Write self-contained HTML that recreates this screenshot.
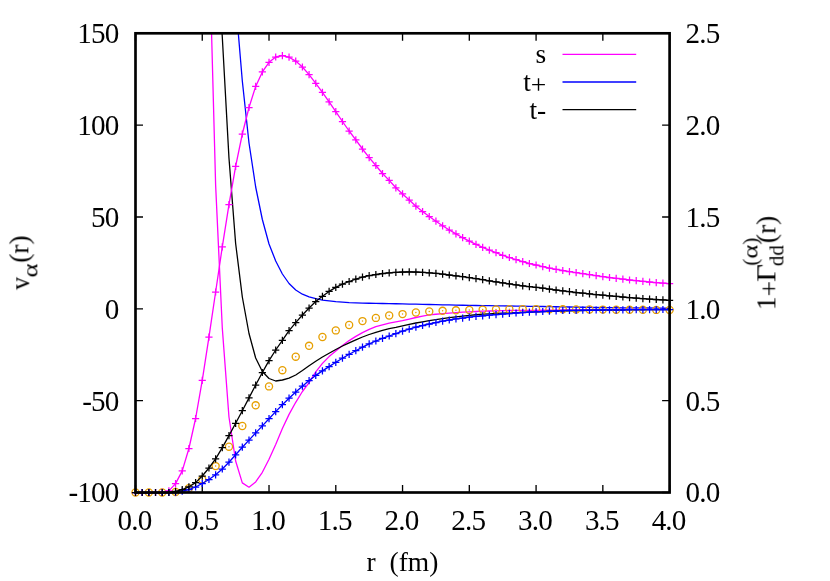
<!DOCTYPE html>
<html><head><meta charset="utf-8"><title>plot</title>
<style>html,body{margin:0;padding:0;background:#fff}body{width:830px;height:581px;overflow:hidden;font-family:"Liberation Serif",serif}</style>
</head><body>
<svg width="830" height="581" viewBox="0 0 830 581" style="display:block">
<rect width="830" height="581" fill="#fff"/>
<defs><clipPath id="c"><rect x="135.5" y="33.3" width="534.1" height="459.2"/></clipPath></defs>
<path d="M135.50,492.5V485.0M135.50,33.3V40.8M202.26,492.5V485.0M202.26,33.3V40.8M269.02,492.5V485.0M269.02,33.3V40.8M335.79,492.5V485.0M335.79,33.3V40.8M402.55,492.5V485.0M402.55,33.3V40.8M469.31,492.5V485.0M469.31,33.3V40.8M536.08,492.5V485.0M536.08,33.3V40.8M602.84,492.5V485.0M602.84,33.3V40.8M669.60,492.5V485.0M669.60,33.3V40.8M135.5,33.30H143.0M669.6,33.30H662.1M135.5,125.14H143.0M669.6,125.14H662.1M135.5,216.98H143.0M669.6,216.98H662.1M135.5,308.82H143.0M669.6,308.82H662.1M135.5,400.66H143.0M669.6,400.66H662.1M135.5,492.50H143.0M669.6,492.50H662.1" stroke="#000" stroke-width="1.33" fill="none"/>
<g clip-path="url(#c)">
<polyline points="208.94,-65.00 215.62,185.00 222.29,328.00 228.97,417.00 235.64,461.00 242.32,482.90 249.00,487.20 255.67,481.90 262.35,472.30 269.02,459.20 275.70,444.50 282.38,428.50 289.05,414.40 295.73,402.30 302.41,391.50 309.08,382.60 315.76,371.80 322.44,363.40 329.11,356.60 335.79,350.90 342.46,345.50 349.14,340.60 355.82,336.40 362.49,332.60 369.17,329.40 375.85,326.70 382.52,324.90 389.20,323.20 395.87,321.80 402.55,320.70 409.23,319.10 415.90,317.50 422.58,316.20 429.26,314.90 435.93,314.25 442.61,313.60 449.28,313.10 455.96,312.60 462.64,312.20 469.31,311.80 475.99,311.50 482.67,311.20 489.34,311.00 496.02,310.80 502.69,310.65 509.37,310.50 516.05,310.45 522.72,310.40 529.40,310.35 536.08,310.30 542.75,310.23 549.43,310.16 556.10,310.09 562.78,310.02 569.46,309.95 576.13,309.88 582.81,309.81 589.49,309.74 596.16,309.67 602.84,309.60 609.51,309.56 616.19,309.52 622.87,309.48 629.54,309.44 636.22,309.40 642.89,309.36 649.57,309.32 656.25,309.28 662.92,309.24 669.60,309.20" fill="none" stroke="#ff00ff" stroke-width="1.3" stroke-linejoin="round"/>
<polyline points="228.97,-80.00 235.64,1.50 242.32,81.00 249.00,143.00 255.67,187.00 262.35,219.50 269.02,244.00 275.70,261.00 282.38,274.00 289.05,283.50 295.73,290.00 302.41,294.20 309.08,296.90 315.76,298.70 322.44,300.10 329.11,300.90 335.79,301.70 342.46,302.15 349.14,302.60 355.82,302.85 362.49,303.10 369.17,303.25 375.85,303.40 382.52,303.52 389.20,303.65 395.87,303.77 402.55,303.90 409.23,304.05 415.90,304.20 422.58,304.35 429.26,304.50 435.93,304.65 442.61,304.80 449.28,304.95 455.96,305.10 462.64,305.25 469.31,305.40 475.99,305.50 482.67,305.60 489.34,305.70 496.02,305.80 502.69,305.90 509.37,306.00 516.05,306.10 522.72,306.20 529.40,306.30 536.08,306.40 542.75,306.52 549.43,306.64 556.10,306.76 562.78,306.88 569.46,307.00 576.13,307.12 582.81,307.24 589.49,307.36 596.16,307.48 602.84,307.60 609.51,307.66 616.19,307.72 622.87,307.78 629.54,307.84 636.22,307.90 642.89,307.96 649.57,308.02 656.25,308.08 662.92,308.14 669.60,308.20" fill="none" stroke="#0000ff" stroke-width="1.3" stroke-linejoin="round"/>
<polyline points="215.62,-86.00 222.29,37.00 228.97,158.00 235.64,243.50 242.32,297.00 249.00,333.50 255.67,358.00 262.35,371.50 269.02,378.50 275.70,381.00 282.38,380.00 289.05,378.20 295.73,375.00 302.41,370.50 309.08,365.70 315.76,361.20 322.44,357.00 329.11,353.20 335.79,349.50 342.46,346.00 349.14,342.80 355.82,339.80 362.49,337.00 369.17,334.50 375.85,332.30 382.52,330.30 389.20,328.60 395.87,327.30 402.55,325.80 409.23,324.30 415.90,323.00 422.58,321.80 429.26,320.60 435.93,319.60 442.61,318.60 449.28,317.70 455.96,316.80 462.64,316.05 469.31,315.30 475.99,314.75 482.67,314.20 489.34,313.80 496.02,313.40 502.69,313.10 509.37,312.80 516.05,312.55 522.72,312.30 529.40,312.10 536.08,311.90 542.75,311.68 549.43,311.45 556.10,311.23 562.78,311.00 569.46,310.87 576.13,310.73 582.81,310.60 589.49,310.47 596.16,310.33 602.84,310.20 609.51,310.13 616.19,310.06 622.87,309.99 629.54,309.92 636.22,309.85 642.89,309.78 649.57,309.71 656.25,309.64 662.92,309.57 669.60,309.50" fill="none" stroke="#000000" stroke-width="1.3" stroke-linejoin="round"/>
</g>
<path d="M562.5,54.3H636.2" stroke="#ff00ff" stroke-width="1.33"/>
<path d="M562.5,82.0H636.2" stroke="#0000ff" stroke-width="1.33"/>
<path d="M562.5,109.6H636.2" stroke="#000000" stroke-width="1.33"/>
<circle cx="135.50" cy="492.50" r="3.55" fill="none" stroke="#e69f00" stroke-width="1.33"/>
<circle cx="135.50" cy="492.50" r="0.75" fill="#e69f00"/>
<circle cx="148.85" cy="492.50" r="3.55" fill="none" stroke="#e69f00" stroke-width="1.33"/>
<circle cx="148.85" cy="492.50" r="0.75" fill="#e69f00"/>
<circle cx="162.21" cy="492.50" r="3.55" fill="none" stroke="#e69f00" stroke-width="1.33"/>
<circle cx="162.21" cy="492.50" r="0.75" fill="#e69f00"/>
<circle cx="175.56" cy="492.00" r="3.55" fill="none" stroke="#e69f00" stroke-width="1.33"/>
<circle cx="175.56" cy="492.00" r="0.75" fill="#e69f00"/>
<circle cx="188.91" cy="488.20" r="3.55" fill="none" stroke="#e69f00" stroke-width="1.33"/>
<circle cx="188.91" cy="488.20" r="0.75" fill="#e69f00"/>
<circle cx="202.26" cy="479.40" r="3.55" fill="none" stroke="#e69f00" stroke-width="1.33"/>
<circle cx="202.26" cy="479.40" r="0.75" fill="#e69f00"/>
<circle cx="215.62" cy="466.10" r="3.55" fill="none" stroke="#e69f00" stroke-width="1.33"/>
<circle cx="215.62" cy="466.10" r="0.75" fill="#e69f00"/>
<circle cx="228.97" cy="446.70" r="3.55" fill="none" stroke="#e69f00" stroke-width="1.33"/>
<circle cx="228.97" cy="446.70" r="0.75" fill="#e69f00"/>
<circle cx="242.32" cy="426.00" r="3.55" fill="none" stroke="#e69f00" stroke-width="1.33"/>
<circle cx="242.32" cy="426.00" r="0.75" fill="#e69f00"/>
<circle cx="255.67" cy="405.30" r="3.55" fill="none" stroke="#e69f00" stroke-width="1.33"/>
<circle cx="255.67" cy="405.30" r="0.75" fill="#e69f00"/>
<circle cx="269.02" cy="386.40" r="3.55" fill="none" stroke="#e69f00" stroke-width="1.33"/>
<circle cx="269.02" cy="386.40" r="0.75" fill="#e69f00"/>
<circle cx="282.38" cy="370.20" r="3.55" fill="none" stroke="#e69f00" stroke-width="1.33"/>
<circle cx="282.38" cy="370.20" r="0.75" fill="#e69f00"/>
<circle cx="295.73" cy="356.70" r="3.55" fill="none" stroke="#e69f00" stroke-width="1.33"/>
<circle cx="295.73" cy="356.70" r="0.75" fill="#e69f00"/>
<circle cx="309.08" cy="345.80" r="3.55" fill="none" stroke="#e69f00" stroke-width="1.33"/>
<circle cx="309.08" cy="345.80" r="0.75" fill="#e69f00"/>
<circle cx="322.44" cy="337.00" r="3.55" fill="none" stroke="#e69f00" stroke-width="1.33"/>
<circle cx="322.44" cy="337.00" r="0.75" fill="#e69f00"/>
<circle cx="335.79" cy="330.40" r="3.55" fill="none" stroke="#e69f00" stroke-width="1.33"/>
<circle cx="335.79" cy="330.40" r="0.75" fill="#e69f00"/>
<circle cx="349.14" cy="325.00" r="3.55" fill="none" stroke="#e69f00" stroke-width="1.33"/>
<circle cx="349.14" cy="325.00" r="0.75" fill="#e69f00"/>
<circle cx="362.49" cy="321.10" r="3.55" fill="none" stroke="#e69f00" stroke-width="1.33"/>
<circle cx="362.49" cy="321.10" r="0.75" fill="#e69f00"/>
<circle cx="375.85" cy="317.90" r="3.55" fill="none" stroke="#e69f00" stroke-width="1.33"/>
<circle cx="375.85" cy="317.90" r="0.75" fill="#e69f00"/>
<circle cx="389.20" cy="315.50" r="3.55" fill="none" stroke="#e69f00" stroke-width="1.33"/>
<circle cx="389.20" cy="315.50" r="0.75" fill="#e69f00"/>
<circle cx="402.55" cy="314.10" r="3.55" fill="none" stroke="#e69f00" stroke-width="1.33"/>
<circle cx="402.55" cy="314.10" r="0.75" fill="#e69f00"/>
<circle cx="415.90" cy="312.50" r="3.55" fill="none" stroke="#e69f00" stroke-width="1.33"/>
<circle cx="415.90" cy="312.50" r="0.75" fill="#e69f00"/>
<circle cx="429.26" cy="311.50" r="3.55" fill="none" stroke="#e69f00" stroke-width="1.33"/>
<circle cx="429.26" cy="311.50" r="0.75" fill="#e69f00"/>
<circle cx="442.61" cy="310.80" r="3.55" fill="none" stroke="#e69f00" stroke-width="1.33"/>
<circle cx="442.61" cy="310.80" r="0.75" fill="#e69f00"/>
<circle cx="455.96" cy="310.30" r="3.55" fill="none" stroke="#e69f00" stroke-width="1.33"/>
<circle cx="455.96" cy="310.30" r="0.75" fill="#e69f00"/>
<circle cx="469.31" cy="309.90" r="3.55" fill="none" stroke="#e69f00" stroke-width="1.33"/>
<circle cx="469.31" cy="309.90" r="0.75" fill="#e69f00"/>
<circle cx="482.67" cy="309.60" r="3.55" fill="none" stroke="#e69f00" stroke-width="1.33"/>
<circle cx="482.67" cy="309.60" r="0.75" fill="#e69f00"/>
<circle cx="496.02" cy="309.40" r="3.55" fill="none" stroke="#e69f00" stroke-width="1.33"/>
<circle cx="496.02" cy="309.40" r="0.75" fill="#e69f00"/>
<circle cx="509.37" cy="309.20" r="3.55" fill="none" stroke="#e69f00" stroke-width="1.33"/>
<circle cx="509.37" cy="309.20" r="0.75" fill="#e69f00"/>
<circle cx="522.72" cy="309.10" r="3.55" fill="none" stroke="#e69f00" stroke-width="1.33"/>
<circle cx="522.72" cy="309.10" r="0.75" fill="#e69f00"/>
<circle cx="536.08" cy="309.10" r="3.55" fill="none" stroke="#e69f00" stroke-width="1.33"/>
<circle cx="536.08" cy="309.10" r="0.75" fill="#e69f00"/>
<circle cx="549.43" cy="309.20" r="3.55" fill="none" stroke="#e69f00" stroke-width="1.33"/>
<circle cx="549.43" cy="309.20" r="0.75" fill="#e69f00"/>
<circle cx="562.78" cy="309.30" r="3.55" fill="none" stroke="#e69f00" stroke-width="1.33"/>
<circle cx="562.78" cy="309.30" r="0.75" fill="#e69f00"/>
<circle cx="576.13" cy="309.40" r="3.55" fill="none" stroke="#e69f00" stroke-width="1.33"/>
<circle cx="576.13" cy="309.40" r="0.75" fill="#e69f00"/>
<circle cx="589.49" cy="309.50" r="3.55" fill="none" stroke="#e69f00" stroke-width="1.33"/>
<circle cx="589.49" cy="309.50" r="0.75" fill="#e69f00"/>
<circle cx="602.84" cy="309.60" r="3.55" fill="none" stroke="#e69f00" stroke-width="1.33"/>
<circle cx="602.84" cy="309.60" r="0.75" fill="#e69f00"/>
<circle cx="616.19" cy="309.70" r="3.55" fill="none" stroke="#e69f00" stroke-width="1.33"/>
<circle cx="616.19" cy="309.70" r="0.75" fill="#e69f00"/>
<circle cx="629.54" cy="309.80" r="3.55" fill="none" stroke="#e69f00" stroke-width="1.33"/>
<circle cx="629.54" cy="309.80" r="0.75" fill="#e69f00"/>
<circle cx="642.89" cy="309.80" r="3.55" fill="none" stroke="#e69f00" stroke-width="1.33"/>
<circle cx="642.89" cy="309.80" r="0.75" fill="#e69f00"/>
<circle cx="656.25" cy="309.90" r="3.55" fill="none" stroke="#e69f00" stroke-width="1.33"/>
<circle cx="656.25" cy="309.90" r="0.75" fill="#e69f00"/>
<circle cx="669.60" cy="309.90" r="3.55" fill="none" stroke="#e69f00" stroke-width="1.33"/>
<circle cx="669.60" cy="309.90" r="0.75" fill="#e69f00"/>
<polyline points="135.50,492.50 142.18,492.50 148.85,492.50 155.53,492.50 162.21,492.40 168.88,490.90 175.56,483.60 182.23,470.90 188.91,448.50 195.59,418.50 202.26,380.40 208.94,337.20 215.62,292.00 222.29,246.90 228.97,204.60 235.64,166.30 242.32,134.00 249.00,107.50 255.67,86.40 262.35,71.90 269.02,62.30 275.70,57.00 282.38,55.70 289.05,57.20 295.73,61.10 302.41,67.00 309.08,74.60 315.76,83.30 322.44,92.30 329.11,101.90 335.79,111.70 342.46,121.50 349.14,131.00 355.82,139.90 362.49,149.00 369.17,157.60 375.85,165.50 382.52,173.50 389.20,180.40 395.87,187.80 402.55,193.90 409.23,200.10 415.90,206.20 422.58,211.50 429.26,216.50 435.93,221.20 442.61,225.80 449.28,230.00 455.96,233.90 462.64,237.70 469.31,241.10 475.99,244.30 482.67,247.30 489.34,250.20 496.02,252.70 502.69,255.30 509.37,257.50 516.05,259.70 522.72,261.70 529.40,263.50 536.08,265.00 542.75,266.70 549.43,268.10 556.10,269.30 562.78,270.50 569.46,271.60 576.13,272.70 582.81,273.70 589.49,274.70 596.16,275.70 602.84,276.60 609.51,277.50 616.19,278.40 622.87,279.20 629.54,280.00 636.22,280.70 642.89,281.40 649.57,282.00 656.25,282.60 662.92,283.20 669.60,283.70" fill="none" stroke="#ff00ff" stroke-width="1.3" stroke-linejoin="round"/>
<path d="M131.90,492.50H139.10M135.50,488.90V496.10M138.58,492.50H145.78M142.18,488.90V496.10M145.25,492.50H152.45M148.85,488.90V496.10M151.93,492.50H159.13M155.53,488.90V496.10M158.61,492.40H165.81M162.21,488.80V496.00M165.28,490.90H172.48M168.88,487.30V494.50M171.96,483.60H179.16M175.56,480.00V487.20M178.63,470.90H185.83M182.23,467.30V474.50M185.31,448.50H192.51M188.91,444.90V452.10M191.99,418.50H199.19M195.59,414.90V422.10M198.66,380.40H205.86M202.26,376.80V384.00M205.34,337.20H212.54M208.94,333.60V340.80M212.02,292.00H219.22M215.62,288.40V295.60M218.69,246.90H225.89M222.29,243.30V250.50M225.37,204.60H232.57M228.97,201.00V208.20M232.04,166.30H239.24M235.64,162.70V169.90M238.72,134.00H245.92M242.32,130.40V137.60M245.40,107.50H252.60M249.00,103.90V111.10M252.07,86.40H259.27M255.67,82.80V90.00M258.75,71.90H265.95M262.35,68.30V75.50M265.42,62.30H272.62M269.02,58.70V65.90M272.10,57.00H279.30M275.70,53.40V60.60M278.78,55.70H285.98M282.38,52.10V59.30M285.45,57.20H292.65M289.05,53.60V60.80M292.13,61.10H299.33M295.73,57.50V64.70M298.81,67.00H306.01M302.41,63.40V70.60M305.48,74.60H312.68M309.08,71.00V78.20M312.16,83.30H319.36M315.76,79.70V86.90M318.83,92.30H326.04M322.44,88.70V95.90M325.51,101.90H332.71M329.11,98.30V105.50M332.19,111.70H339.39M335.79,108.10V115.30M338.86,121.50H346.06M342.46,117.90V125.10M345.54,131.00H352.74M349.14,127.40V134.60M352.22,139.90H359.42M355.82,136.30V143.50M358.89,149.00H366.09M362.49,145.40V152.60M365.57,157.60H372.77M369.17,154.00V161.20M372.25,165.50H379.45M375.85,161.90V169.10M378.92,173.50H386.12M382.52,169.90V177.10M385.60,180.40H392.80M389.20,176.80V184.00M392.27,187.80H399.47M395.87,184.20V191.40M398.95,193.90H406.15M402.55,190.30V197.50M405.63,200.10H412.83M409.23,196.50V203.70M412.30,206.20H419.50M415.90,202.60V209.80M418.98,211.50H426.18M422.58,207.90V215.10M425.66,216.50H432.86M429.26,212.90V220.10M432.33,221.20H439.53M435.93,217.60V224.80M439.01,225.80H446.21M442.61,222.20V229.40M445.68,230.00H452.88M449.28,226.40V233.60M452.36,233.90H459.56M455.96,230.30V237.50M459.04,237.70H466.24M462.64,234.10V241.30M465.71,241.10H472.91M469.31,237.50V244.70M472.39,244.30H479.59M475.99,240.70V247.90M479.06,247.30H486.27M482.67,243.70V250.90M485.74,250.20H492.94M489.34,246.60V253.80M492.42,252.70H499.62M496.02,249.10V256.30M499.09,255.30H506.29M502.69,251.70V258.90M505.77,257.50H512.97M509.37,253.90V261.10M512.45,259.70H519.65M516.05,256.10V263.30M519.12,261.70H526.32M522.72,258.10V265.30M525.80,263.50H533.00M529.40,259.90V267.10M532.48,265.00H539.68M536.08,261.40V268.60M539.15,266.70H546.35M542.75,263.10V270.30M545.83,268.10H553.03M549.43,264.50V271.70M552.50,269.30H559.70M556.10,265.70V272.90M559.18,270.50H566.38M562.78,266.90V274.10M565.86,271.60H573.06M569.46,268.00V275.20M572.53,272.70H579.73M576.13,269.10V276.30M579.21,273.70H586.41M582.81,270.10V277.30M585.88,274.70H593.09M589.49,271.10V278.30M592.56,275.70H599.76M596.16,272.10V279.30M599.24,276.60H606.44M602.84,273.00V280.20M605.91,277.50H613.11M609.51,273.90V281.10M612.59,278.40H619.79M616.19,274.80V282.00M619.27,279.20H626.47M622.87,275.60V282.80M625.94,280.00H633.14M629.54,276.40V283.60M632.62,280.70H639.82M636.22,277.10V284.30M639.29,281.40H646.50M642.89,277.80V285.00M645.97,282.00H653.17M649.57,278.40V285.60M652.65,282.60H659.85M656.25,279.00V286.20M659.32,283.20H666.52M662.92,279.60V286.80M666.00,283.70H673.20M669.60,280.10V287.30" fill="none" stroke="#ff00ff" stroke-width="1.25"/>
<polyline points="135.50,492.50 142.18,492.50 148.85,492.50 155.53,492.50 162.21,492.50 168.88,492.50 175.56,492.50 182.23,491.20 188.91,489.50 195.59,487.00 202.26,483.50 208.94,479.50 215.62,474.80 222.29,469.00 228.97,462.20 235.64,454.80 242.32,447.20 249.00,440.10 255.67,432.90 262.35,425.90 269.02,418.70 275.70,411.60 282.38,404.70 289.05,398.20 295.73,392.00 302.41,386.20 309.08,380.60 315.76,375.40 322.44,370.90 329.11,366.60 335.79,362.30 342.46,358.20 349.14,354.30 355.82,350.70 362.49,347.10 369.17,343.90 375.85,341.00 382.52,338.40 389.20,336.00 395.87,333.60 402.55,331.20 409.23,329.10 415.90,327.20 422.58,325.50 429.26,324.00 435.93,322.50 442.61,321.20 449.28,320.00 455.96,318.90 462.64,318.10 469.31,317.20 475.99,316.40 482.67,315.80 489.34,315.20 496.02,314.70 502.69,314.10 509.37,313.50 516.05,313.00 522.72,312.50 529.40,312.20 536.08,311.90 542.75,311.50 549.43,311.10 556.10,310.80 562.78,310.50 569.46,310.40 576.13,310.30 582.81,310.20 589.49,310.10 596.16,310.00 602.84,309.90 609.51,309.90 616.19,309.80 622.87,309.80 629.54,309.70 636.22,309.70 642.89,309.60 649.57,309.60 656.25,309.60 662.92,309.50 669.60,309.50" fill="none" stroke="#0000ff" stroke-width="1.3" stroke-linejoin="round"/>
<path d="M131.90,492.50H139.10M135.50,488.90V496.10M138.58,492.50H145.78M142.18,488.90V496.10M145.25,492.50H152.45M148.85,488.90V496.10M151.93,492.50H159.13M155.53,488.90V496.10M158.61,492.50H165.81M162.21,488.90V496.10M165.28,492.50H172.48M168.88,488.90V496.10M171.96,492.50H179.16M175.56,488.90V496.10M178.63,491.20H185.83M182.23,487.60V494.80M185.31,489.50H192.51M188.91,485.90V493.10M191.99,487.00H199.19M195.59,483.40V490.60M198.66,483.50H205.86M202.26,479.90V487.10M205.34,479.50H212.54M208.94,475.90V483.10M212.02,474.80H219.22M215.62,471.20V478.40M218.69,469.00H225.89M222.29,465.40V472.60M225.37,462.20H232.57M228.97,458.60V465.80M232.04,454.80H239.24M235.64,451.20V458.40M238.72,447.20H245.92M242.32,443.60V450.80M245.40,440.10H252.60M249.00,436.50V443.70M252.07,432.90H259.27M255.67,429.30V436.50M258.75,425.90H265.95M262.35,422.30V429.50M265.42,418.70H272.62M269.02,415.10V422.30M272.10,411.60H279.30M275.70,408.00V415.20M278.78,404.70H285.98M282.38,401.10V408.30M285.45,398.20H292.65M289.05,394.60V401.80M292.13,392.00H299.33M295.73,388.40V395.60M298.81,386.20H306.01M302.41,382.60V389.80M305.48,380.60H312.68M309.08,377.00V384.20M312.16,375.40H319.36M315.76,371.80V379.00M318.83,370.90H326.04M322.44,367.30V374.50M325.51,366.60H332.71M329.11,363.00V370.20M332.19,362.30H339.39M335.79,358.70V365.90M338.86,358.20H346.06M342.46,354.60V361.80M345.54,354.30H352.74M349.14,350.70V357.90M352.22,350.70H359.42M355.82,347.10V354.30M358.89,347.10H366.09M362.49,343.50V350.70M365.57,343.90H372.77M369.17,340.30V347.50M372.25,341.00H379.45M375.85,337.40V344.60M378.92,338.40H386.12M382.52,334.80V342.00M385.60,336.00H392.80M389.20,332.40V339.60M392.27,333.60H399.47M395.87,330.00V337.20M398.95,331.20H406.15M402.55,327.60V334.80M405.63,329.10H412.83M409.23,325.50V332.70M412.30,327.20H419.50M415.90,323.60V330.80M418.98,325.50H426.18M422.58,321.90V329.10M425.66,324.00H432.86M429.26,320.40V327.60M432.33,322.50H439.53M435.93,318.90V326.10M439.01,321.20H446.21M442.61,317.60V324.80M445.68,320.00H452.88M449.28,316.40V323.60M452.36,318.90H459.56M455.96,315.30V322.50M459.04,318.10H466.24M462.64,314.50V321.70M465.71,317.20H472.91M469.31,313.60V320.80M472.39,316.40H479.59M475.99,312.80V320.00M479.06,315.80H486.27M482.67,312.20V319.40M485.74,315.20H492.94M489.34,311.60V318.80M492.42,314.70H499.62M496.02,311.10V318.30M499.09,314.10H506.29M502.69,310.50V317.70M505.77,313.50H512.97M509.37,309.90V317.10M512.45,313.00H519.65M516.05,309.40V316.60M519.12,312.50H526.32M522.72,308.90V316.10M525.80,312.20H533.00M529.40,308.60V315.80M532.48,311.90H539.68M536.08,308.30V315.50M539.15,311.50H546.35M542.75,307.90V315.10M545.83,311.10H553.03M549.43,307.50V314.70M552.50,310.80H559.70M556.10,307.20V314.40M559.18,310.50H566.38M562.78,306.90V314.10M565.86,310.40H573.06M569.46,306.80V314.00M572.53,310.30H579.73M576.13,306.70V313.90M579.21,310.20H586.41M582.81,306.60V313.80M585.88,310.10H593.09M589.49,306.50V313.70M592.56,310.00H599.76M596.16,306.40V313.60M599.24,309.90H606.44M602.84,306.30V313.50M605.91,309.90H613.11M609.51,306.30V313.50M612.59,309.80H619.79M616.19,306.20V313.40M619.27,309.80H626.47M622.87,306.20V313.40M625.94,309.70H633.14M629.54,306.10V313.30M632.62,309.70H639.82M636.22,306.10V313.30M639.29,309.60H646.50M642.89,306.00V313.20M645.97,309.60H653.17M649.57,306.00V313.20M652.65,309.60H659.85M656.25,306.00V313.20M659.32,309.50H666.52M662.92,305.90V313.10M666.00,309.50H673.20M669.60,305.90V313.10" fill="none" stroke="#0000ff" stroke-width="1.25"/>
<polyline points="135.50,492.50 142.18,492.50 148.85,492.50 155.53,492.50 162.21,492.50 168.88,492.50 175.56,491.40 182.23,489.70 188.91,486.80 195.59,482.60 202.26,476.00 208.94,468.00 215.62,458.80 222.29,447.60 228.97,435.60 235.64,423.30 242.32,410.70 249.00,397.90 255.67,385.00 262.35,372.50 269.02,360.60 275.70,350.00 282.38,340.40 289.05,330.70 295.73,322.60 302.41,315.00 309.08,308.00 315.76,301.50 322.44,296.30 329.11,291.40 335.79,287.40 342.46,284.10 349.14,281.50 355.82,279.10 362.49,277.20 369.17,275.70 375.85,274.50 382.52,273.50 389.20,272.80 395.87,272.30 402.55,272.00 409.23,271.90 415.90,272.00 422.58,272.30 429.26,272.80 435.93,273.40 442.61,274.10 449.28,275.00 455.96,275.80 462.64,276.70 469.31,277.70 475.99,278.70 482.67,279.70 489.34,280.80 496.02,281.90 502.69,282.90 509.37,283.90 516.05,284.90 522.72,285.80 529.40,286.60 536.08,287.40 542.75,288.20 549.43,289.10 556.10,290.00 562.78,290.90 569.46,291.70 576.13,292.50 582.81,293.20 589.49,293.90 596.16,294.60 602.84,295.20 609.51,295.80 616.19,296.40 622.87,297.00 629.54,297.60 636.22,298.10 642.89,298.60 649.57,299.10 656.25,299.50 662.92,299.90 669.60,300.30" fill="none" stroke="#000000" stroke-width="1.3" stroke-linejoin="round"/>
<path d="M131.90,492.50H139.10M135.50,488.90V496.10M138.58,492.50H145.78M142.18,488.90V496.10M145.25,492.50H152.45M148.85,488.90V496.10M151.93,492.50H159.13M155.53,488.90V496.10M158.61,492.50H165.81M162.21,488.90V496.10M165.28,492.50H172.48M168.88,488.90V496.10M171.96,491.40H179.16M175.56,487.80V495.00M178.63,489.70H185.83M182.23,486.10V493.30M185.31,486.80H192.51M188.91,483.20V490.40M191.99,482.60H199.19M195.59,479.00V486.20M198.66,476.00H205.86M202.26,472.40V479.60M205.34,468.00H212.54M208.94,464.40V471.60M212.02,458.80H219.22M215.62,455.20V462.40M218.69,447.60H225.89M222.29,444.00V451.20M225.37,435.60H232.57M228.97,432.00V439.20M232.04,423.30H239.24M235.64,419.70V426.90M238.72,410.70H245.92M242.32,407.10V414.30M245.40,397.90H252.60M249.00,394.30V401.50M252.07,385.00H259.27M255.67,381.40V388.60M258.75,372.50H265.95M262.35,368.90V376.10M265.42,360.60H272.62M269.02,357.00V364.20M272.10,350.00H279.30M275.70,346.40V353.60M278.78,340.40H285.98M282.38,336.80V344.00M285.45,330.70H292.65M289.05,327.10V334.30M292.13,322.60H299.33M295.73,319.00V326.20M298.81,315.00H306.01M302.41,311.40V318.60M305.48,308.00H312.68M309.08,304.40V311.60M312.16,301.50H319.36M315.76,297.90V305.10M318.83,296.30H326.04M322.44,292.70V299.90M325.51,291.40H332.71M329.11,287.80V295.00M332.19,287.40H339.39M335.79,283.80V291.00M338.86,284.10H346.06M342.46,280.50V287.70M345.54,281.50H352.74M349.14,277.90V285.10M352.22,279.10H359.42M355.82,275.50V282.70M358.89,277.20H366.09M362.49,273.60V280.80M365.57,275.70H372.77M369.17,272.10V279.30M372.25,274.50H379.45M375.85,270.90V278.10M378.92,273.50H386.12M382.52,269.90V277.10M385.60,272.80H392.80M389.20,269.20V276.40M392.27,272.30H399.47M395.87,268.70V275.90M398.95,272.00H406.15M402.55,268.40V275.60M405.63,271.90H412.83M409.23,268.30V275.50M412.30,272.00H419.50M415.90,268.40V275.60M418.98,272.30H426.18M422.58,268.70V275.90M425.66,272.80H432.86M429.26,269.20V276.40M432.33,273.40H439.53M435.93,269.80V277.00M439.01,274.10H446.21M442.61,270.50V277.70M445.68,275.00H452.88M449.28,271.40V278.60M452.36,275.80H459.56M455.96,272.20V279.40M459.04,276.70H466.24M462.64,273.10V280.30M465.71,277.70H472.91M469.31,274.10V281.30M472.39,278.70H479.59M475.99,275.10V282.30M479.06,279.70H486.27M482.67,276.10V283.30M485.74,280.80H492.94M489.34,277.20V284.40M492.42,281.90H499.62M496.02,278.30V285.50M499.09,282.90H506.29M502.69,279.30V286.50M505.77,283.90H512.97M509.37,280.30V287.50M512.45,284.90H519.65M516.05,281.30V288.50M519.12,285.80H526.32M522.72,282.20V289.40M525.80,286.60H533.00M529.40,283.00V290.20M532.48,287.40H539.68M536.08,283.80V291.00M539.15,288.20H546.35M542.75,284.60V291.80M545.83,289.10H553.03M549.43,285.50V292.70M552.50,290.00H559.70M556.10,286.40V293.60M559.18,290.90H566.38M562.78,287.30V294.50M565.86,291.70H573.06M569.46,288.10V295.30M572.53,292.50H579.73M576.13,288.90V296.10M579.21,293.20H586.41M582.81,289.60V296.80M585.88,293.90H593.09M589.49,290.30V297.50M592.56,294.60H599.76M596.16,291.00V298.20M599.24,295.20H606.44M602.84,291.60V298.80M605.91,295.80H613.11M609.51,292.20V299.40M612.59,296.40H619.79M616.19,292.80V300.00M619.27,297.00H626.47M622.87,293.40V300.60M625.94,297.60H633.14M629.54,294.00V301.20M632.62,298.10H639.82M636.22,294.50V301.70M639.29,298.60H646.50M642.89,295.00V302.20M645.97,299.10H653.17M649.57,295.50V302.70M652.65,299.50H659.85M656.25,295.90V303.10M659.32,299.90H666.52M662.92,296.30V303.50M666.00,300.30H673.20M669.60,296.70V303.90" fill="none" stroke="#000000" stroke-width="1.25"/>
<rect x="135.5" y="33.3" width="534.1" height="459.2" fill="none" stroke="#000" stroke-width="2.67"/>
<g font-family="Liberation Serif, serif" fill="#000" opacity="0.999"><text transform="translate(118.5,43) scale(1.06,1.08)" letter-spacing="-0.78" font-size="27.5" text-anchor="end">150</text>
<text transform="translate(118.5,135) scale(1.06,1.08)" letter-spacing="-0.78" font-size="27.5" text-anchor="end">100</text>
<text transform="translate(118.5,227) scale(1.06,1.08)" letter-spacing="-0.78" font-size="27.5" text-anchor="end">50</text>
<text transform="translate(118.5,319) scale(1.06,1.08)" letter-spacing="-0.78" font-size="27.5" text-anchor="end">0</text>
<text transform="translate(118.5,411) scale(1.06,1.08)" letter-spacing="-0.78" font-size="27.5" text-anchor="end">-50</text>
<text transform="translate(118.5,502) scale(1.06,1.08)" letter-spacing="-0.78" font-size="27.5" text-anchor="end">-100</text>
<text transform="translate(685.6,43) scale(1.06,1.08)" letter-spacing="-0.78" font-size="27.5" text-anchor="start">2.5</text>
<text transform="translate(685.6,135) scale(1.06,1.08)" letter-spacing="-0.78" font-size="27.5" text-anchor="start">2.0</text>
<text transform="translate(685.6,227) scale(1.06,1.08)" letter-spacing="-0.78" font-size="27.5" text-anchor="start">1.5</text>
<text transform="translate(685.6,319) scale(1.06,1.08)" letter-spacing="-0.78" font-size="27.5" text-anchor="start">1.0</text>
<text transform="translate(685.6,411) scale(1.06,1.08)" letter-spacing="-0.78" font-size="27.5" text-anchor="start">0.5</text>
<text transform="translate(685.6,502) scale(1.06,1.08)" letter-spacing="-0.78" font-size="27.5" text-anchor="start">0.0</text>
<text transform="translate(134.5,530.2) scale(1.06,1.08)" letter-spacing="-0.78" font-size="27.5" text-anchor="middle">0.0</text>
<text transform="translate(201.26,530.2) scale(1.06,1.08)" letter-spacing="-0.78" font-size="27.5" text-anchor="middle">0.5</text>
<text transform="translate(268.02,530.2) scale(1.06,1.08)" letter-spacing="-0.78" font-size="27.5" text-anchor="middle">1.0</text>
<text transform="translate(334.79,530.2) scale(1.06,1.08)" letter-spacing="-0.78" font-size="27.5" text-anchor="middle">1.5</text>
<text transform="translate(401.55,530.2) scale(1.06,1.08)" letter-spacing="-0.78" font-size="27.5" text-anchor="middle">2.0</text>
<text transform="translate(468.31,530.2) scale(1.06,1.08)" letter-spacing="-0.78" font-size="27.5" text-anchor="middle">2.5</text>
<text transform="translate(535.08,530.2) scale(1.06,1.08)" letter-spacing="-0.78" font-size="27.5" text-anchor="middle">3.0</text>
<text transform="translate(601.84,530.2) scale(1.06,1.08)" letter-spacing="-0.78" font-size="27.5" text-anchor="middle">3.5</text>
<text transform="translate(668.6,530.2) scale(1.06,1.08)" letter-spacing="-0.78" font-size="27.5" text-anchor="middle">4.0</text>
<text x="402.5" y="570.6" font-size="27.5" text-anchor="middle">r&#160;&#160;(fm)</text>
<text x="546.3" y="63.2" font-size="27.5" text-anchor="end">s</text>
<text x="546.3" y="91.0" font-size="27.5" text-anchor="end">t<tspan dy="2.7">+</tspan></text>
<text x="546.3" y="118.8" font-size="27.5" text-anchor="end">t-</text>
<g transform="translate(28.35,290.3) rotate(-90)"><text transform="translate(0.5,0.5) scale(0.93,1)" font-size="27.5">v</text><text transform="translate(12.8,9.0) scale(1.22,0.98)" font-size="22">α</text><text x="27.46" y="0" font-size="27.5">(r)</text></g>
<g transform="translate(775.4,310.2) rotate(-90)"><text x="0" y="0" font-size="27.5">1</text><text x="13.75" y="2.7" font-size="27.5">+</text><text transform="translate(28.3,0) scale(1.13,1)" font-size="27.5">Γ</text><text x="44.5" y="-18.2" font-size="21">(</text><text transform="translate(51.5,-18.2) scale(1.27,1.02)" font-size="21">α</text><text x="65.45" y="-18.2" font-size="21">)</text><text x="44.1" y="8.2" font-size="21">dd</text><text x="67.06" y="0" font-size="27.5">(r)</text></g></g>
</svg>
</body></html>
